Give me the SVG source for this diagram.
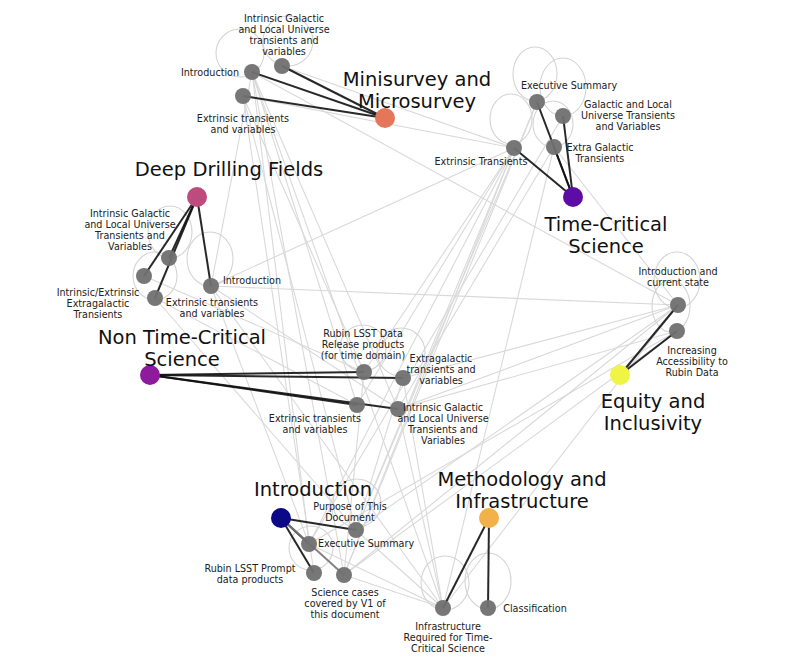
<svg xmlns="http://www.w3.org/2000/svg" width="806" height="666" viewBox="0 0 806 666">
<style>
.g line{stroke:#d9d9d9;stroke-width:1.1}
.loop{fill:none;stroke:#d4d4d4;stroke-width:1.1}
.k line{stroke:#111;stroke-width:2;stroke-opacity:0.9}
.leaf{fill:#707070;fill-opacity:0.95}
.hl{font-family:"DejaVu Sans",sans-serif;font-size:19.5px;fill:#111;text-anchor:middle}
.ll{font-family:"DejaVu Sans",sans-serif;font-size:9.6px;fill:#222;text-anchor:middle}
</style>
<rect width="806" height="666" fill="#fff"/>
<g id="connectors">
<g class="g">
<line x1="252" y1="72" x2="678" y2="305"/>
<line x1="243" y1="96" x2="514" y2="148"/>
<line x1="282" y1="66" x2="514" y2="148"/>
<line x1="211" y1="286" x2="678" y2="305"/>
<line x1="211" y1="286" x2="514" y2="148"/>
<line x1="554" y1="147" x2="678" y2="305"/>
<line x1="252" y1="72" x2="211" y2="286"/>
<line x1="252" y1="72" x2="309" y2="544"/>
<line x1="252" y1="72" x2="344" y2="575"/>
<line x1="252" y1="72" x2="357" y2="405"/>
<line x1="252" y1="72" x2="398" y2="409"/>
<line x1="243" y1="96" x2="314" y2="573"/>
<line x1="243" y1="96" x2="356" y2="530"/>
<line x1="243" y1="96" x2="364" y2="372"/>
<line x1="252" y1="72" x2="443" y2="608"/>
<line x1="514" y1="148" x2="356" y2="530"/>
<line x1="514" y1="148" x2="309" y2="544"/>
<line x1="514" y1="148" x2="344" y2="575"/>
<line x1="514" y1="148" x2="357" y2="405"/>
<line x1="514" y1="148" x2="364" y2="372"/>
<line x1="537" y1="102" x2="356" y2="530"/>
<line x1="537" y1="102" x2="344" y2="575"/>
<line x1="554" y1="147" x2="398" y2="409"/>
<line x1="554" y1="147" x2="443" y2="608"/>
<line x1="563" y1="116" x2="309" y2="544"/>
<line x1="678" y1="305" x2="356" y2="530"/>
<line x1="678" y1="305" x2="344" y2="575"/>
<line x1="678" y1="305" x2="403" y2="378"/>
<line x1="678" y1="305" x2="398" y2="409"/>
<line x1="678" y1="305" x2="443" y2="608"/>
<line x1="677" y1="331" x2="309" y2="544"/>
<line x1="677" y1="331" x2="398" y2="409"/>
<line x1="677" y1="331" x2="344" y2="575"/>
<line x1="211" y1="286" x2="398" y2="409"/>
<line x1="211" y1="286" x2="309" y2="544"/>
<line x1="211" y1="286" x2="443" y2="608"/>
<line x1="155" y1="298" x2="357" y2="405"/>
<line x1="155" y1="298" x2="356" y2="530"/>
<line x1="144" y1="276" x2="364" y2="372"/>
<line x1="364" y1="372" x2="344" y2="575"/>
<line x1="403" y1="378" x2="356" y2="530"/>
<line x1="398" y1="409" x2="443" y2="608"/>
<line x1="403" y1="378" x2="443" y2="608"/>
<line x1="443" y1="608" x2="344" y2="575"/>
<line x1="443" y1="608" x2="309" y2="544"/>
<line x1="443" y1="608" x2="356" y2="530"/>
</g>
<g>
<circle class="loop" cx="240" cy="53" r="24"/>
<circle class="loop" cx="288" cy="41" r="25"/>
<ellipse class="loop" cx="535" cy="74" rx="22" ry="27"/>
<ellipse class="loop" cx="563" cy="87" rx="23" ry="29"/>
<ellipse class="loop" cx="511" cy="119" rx="21" ry="25"/>
<ellipse class="loop" cx="553" cy="124" rx="20" ry="23"/>
<ellipse class="loop" cx="170" cy="232" rx="22" ry="26"/>
<ellipse class="loop" cx="155" cy="276" rx="22" ry="24"/>
<ellipse class="loop" cx="210" cy="259" rx="23" ry="27"/>
<circle class="loop" cx="363" cy="348" r="23"/>
<circle class="loop" cx="401" cy="352" r="24"/>
<ellipse class="loop" cx="677" cy="280" rx="23" ry="28"/>
<ellipse class="loop" cx="671" cy="306" rx="19" ry="26"/>
<circle class="loop" cx="357" cy="503" r="24"/>
<circle class="loop" cx="311" cy="548" r="22"/>
<ellipse class="loop" cx="445" cy="583" rx="24" ry="27"/>
<ellipse class="loop" cx="488" cy="581" rx="23" ry="28"/>
</g>
<g class="k">
<line x1="385" y1="118" x2="252" y2="72"/>
<line x1="385" y1="118" x2="282" y2="66"/>
<line x1="385" y1="118" x2="243" y2="96"/>
<line x1="573" y1="197" x2="537" y2="102"/>
<line x1="573" y1="197" x2="563" y2="116"/>
<line x1="573" y1="197" x2="554" y2="147"/>
<line x1="573" y1="197" x2="514" y2="148"/>
<line x1="197" y1="197" x2="169" y2="258"/>
<line x1="197" y1="197" x2="144" y2="276"/>
<line x1="197" y1="197" x2="155" y2="298"/>
<line x1="197" y1="197" x2="211" y2="286"/>
<line x1="150" y1="375" x2="364" y2="372"/>
<line x1="150" y1="375" x2="403" y2="378"/>
<line x1="150" y1="375" x2="357" y2="405"/>
<line x1="150" y1="375" x2="398" y2="409"/>
<line x1="620" y1="375" x2="678" y2="305"/>
<line x1="620" y1="375" x2="677" y2="331"/>
<line x1="281" y1="518" x2="356" y2="530"/>
<line x1="281" y1="518" x2="309" y2="544"/>
<line x1="281" y1="518" x2="314" y2="573"/>
<line x1="281" y1="518" x2="344" y2="575" style="stroke:#777"/>
<line x1="489" y1="518" x2="443" y2="608"/>
<line x1="489" y1="518" x2="488" y2="608"/>
</g>
</g>
<g id="minisurvey">
<circle cx="385" cy="118" r="10" fill="#e4765a"/>
<text class="hl" x="417" y="86">Minisurvey and</text>
<text class="hl" x="417" y="108">Microsurvey</text>
</g>
<g id="m-intro"><circle class="leaf" cx="252" cy="72" r="8"/><text class="ll" x="210" y="75.5">Introduction</text></g>
<g id="m-intrinsic"><circle class="leaf" cx="282" cy="66" r="8"/><text class="ll" x="284" y="21.5">Intrinsic Galactic</text><text class="ll" x="284" y="32.8">and Local Universe</text><text class="ll" x="284" y="44">transients and</text><text class="ll" x="284" y="55.3">variables</text></g>
<g id="m-extrinsic"><circle class="leaf" cx="243" cy="96" r="8"/><text class="ll" x="243" y="121.5">Extrinsic transients</text><text class="ll" x="243" y="132.8">and variables</text></g>
<g id="timecritical">
<circle cx="573" cy="197" r="10" fill="#5d0ca6"/>
<text class="hl" x="606" y="231">Time-Critical</text>
<text class="hl" x="606" y="253">Science</text>
</g>
<g id="t-exec"><circle class="leaf" cx="537" cy="102" r="8"/><text class="ll" x="569" y="88.5">Executive Summary</text></g>
<g id="t-galactic"><circle class="leaf" cx="563" cy="116" r="8"/><text class="ll" x="628" y="107.5">Galactic and Local</text><text class="ll" x="628" y="118.8">Universe Transients</text><text class="ll" x="628" y="130">and Variables</text></g>
<g id="t-extragal"><circle class="leaf" cx="554" cy="147" r="8"/><text class="ll" x="600" y="150.5">Extra Galactic</text><text class="ll" x="600" y="161.8">Transients</text></g>
<g id="t-extrinsic"><circle class="leaf" cx="514" cy="148" r="8"/><text class="ll" x="481" y="164.5">Extrinsic Transients</text></g>
<g id="ddf">
<circle cx="197" cy="197" r="10" fill="#bd4b7e"/>
<text class="hl" x="229" y="176">Deep Drilling Fields</text>
</g>
<g id="d-intrinsic"><circle class="leaf" cx="169" cy="258" r="8"/><text class="ll" x="130" y="216.5">Intrinsic Galactic</text><text class="ll" x="130" y="227.8">and Local Universe</text><text class="ll" x="130" y="239">Transients and</text><text class="ll" x="130" y="250.3">Variables</text></g>
<g id="d-ie"><circle class="leaf" cx="144" cy="276" r="8"/><text class="ll" x="98" y="295.5">Intrinsic/Extrinsic</text><text class="ll" x="98" y="306.8">Extragalactic</text><text class="ll" x="98" y="318">Transients</text></g>
<g id="d-extrinsic"><circle class="leaf" cx="155" cy="298" r="8"/><text class="ll" x="212" y="305.5">Extrinsic transients</text><text class="ll" x="212" y="316.8">and variables</text></g>
<g id="d-intro"><circle class="leaf" cx="211" cy="286" r="8"/><text class="ll" x="252" y="283.5">Introduction</text></g>
<g id="nontimecritical">
<circle cx="150" cy="375" r="10" fill="#8e1a9e"/>
<text class="hl" x="182" y="344">Non Time-Critical</text>
<text class="hl" x="182" y="366">Science</text>
</g>
<g id="n-rubin"><circle class="leaf" cx="364" cy="372" r="8"/><text class="ll" x="363" y="336.5">Rubin LSST Data</text><text class="ll" x="363" y="347.8">Release products</text><text class="ll" x="363" y="359">(for time domain)</text></g>
<g id="n-extragal"><circle class="leaf" cx="403" cy="378" r="8"/><text class="ll" x="441" y="361.5">Extragalactic</text><text class="ll" x="441" y="372.8">transients and</text><text class="ll" x="441" y="384">variables</text></g>
<g id="n-extrinsic"><circle class="leaf" cx="357" cy="405" r="8"/><text class="ll" x="315" y="421.5">Extrinsic transients</text><text class="ll" x="315" y="432.8">and variables</text></g>
<g id="n-intrinsic"><circle class="leaf" cx="398" cy="409" r="8"/><text class="ll" x="443" y="410.5">Intrinsic Galactic</text><text class="ll" x="443" y="421.8">and Local Universe</text><text class="ll" x="443" y="433">Transients and</text><text class="ll" x="443" y="444.3">Variables</text></g>
<g id="equity">
<circle cx="620" cy="375" r="10" fill="#eff445"/>
<text class="hl" x="653" y="408">Equity and</text>
<text class="hl" x="653" y="430">Inclusivity</text>
</g>
<g id="e-intro"><circle class="leaf" cx="678" cy="305" r="8"/><text class="ll" x="678" y="274.5">Introduction and</text><text class="ll" x="678" y="285.8">current state</text></g>
<g id="e-access"><circle class="leaf" cx="677" cy="331" r="8"/><text class="ll" x="692" y="353.5">Increasing</text><text class="ll" x="692" y="364.8">Accessibility to</text><text class="ll" x="692" y="376">Rubin Data</text></g>
<g id="introduction">
<circle cx="281" cy="518" r="10" fill="#0d0887"/>
<text class="hl" x="313" y="496">Introduction</text>
</g>
<g id="i-purpose"><circle class="leaf" cx="356" cy="530" r="8"/><text class="ll" x="350" y="510">Purpose of This</text><text class="ll" x="350" y="521">Document</text></g>
<g id="i-exec"><circle class="leaf" cx="309" cy="544" r="8"/><text class="ll" x="366" y="546.5">Executive Summary</text></g>
<g id="i-prompt"><circle class="leaf" cx="314" cy="573" r="8"/><text class="ll" x="250" y="571.5">Rubin LSST Prompt</text><text class="ll" x="250" y="582.8">data products</text></g>
<g id="i-science"><circle class="leaf" cx="344" cy="575" r="8"/><text class="ll" x="345" y="595.5">Science cases</text><text class="ll" x="345" y="606.8">covered by V1 of</text><text class="ll" x="345" y="618">this document</text></g>
<g id="methodology">
<circle cx="489" cy="518" r="10" fill="#f2b24a"/>
<text class="hl" x="522" y="486">Methodology and</text>
<text class="hl" x="522" y="508">Infrastructure</text>
</g>
<g id="me-infra"><circle class="leaf" cx="443" cy="608" r="8"/><text class="ll" x="448" y="629.5">Infrastructure</text><text class="ll" x="448" y="640.8">Required for Time-</text><text class="ll" x="448" y="652">Critical Science</text></g>
<g id="me-class"><circle class="leaf" cx="488" cy="608" r="8"/><text class="ll" x="535" y="611.5">Classification</text></g>
</svg>
